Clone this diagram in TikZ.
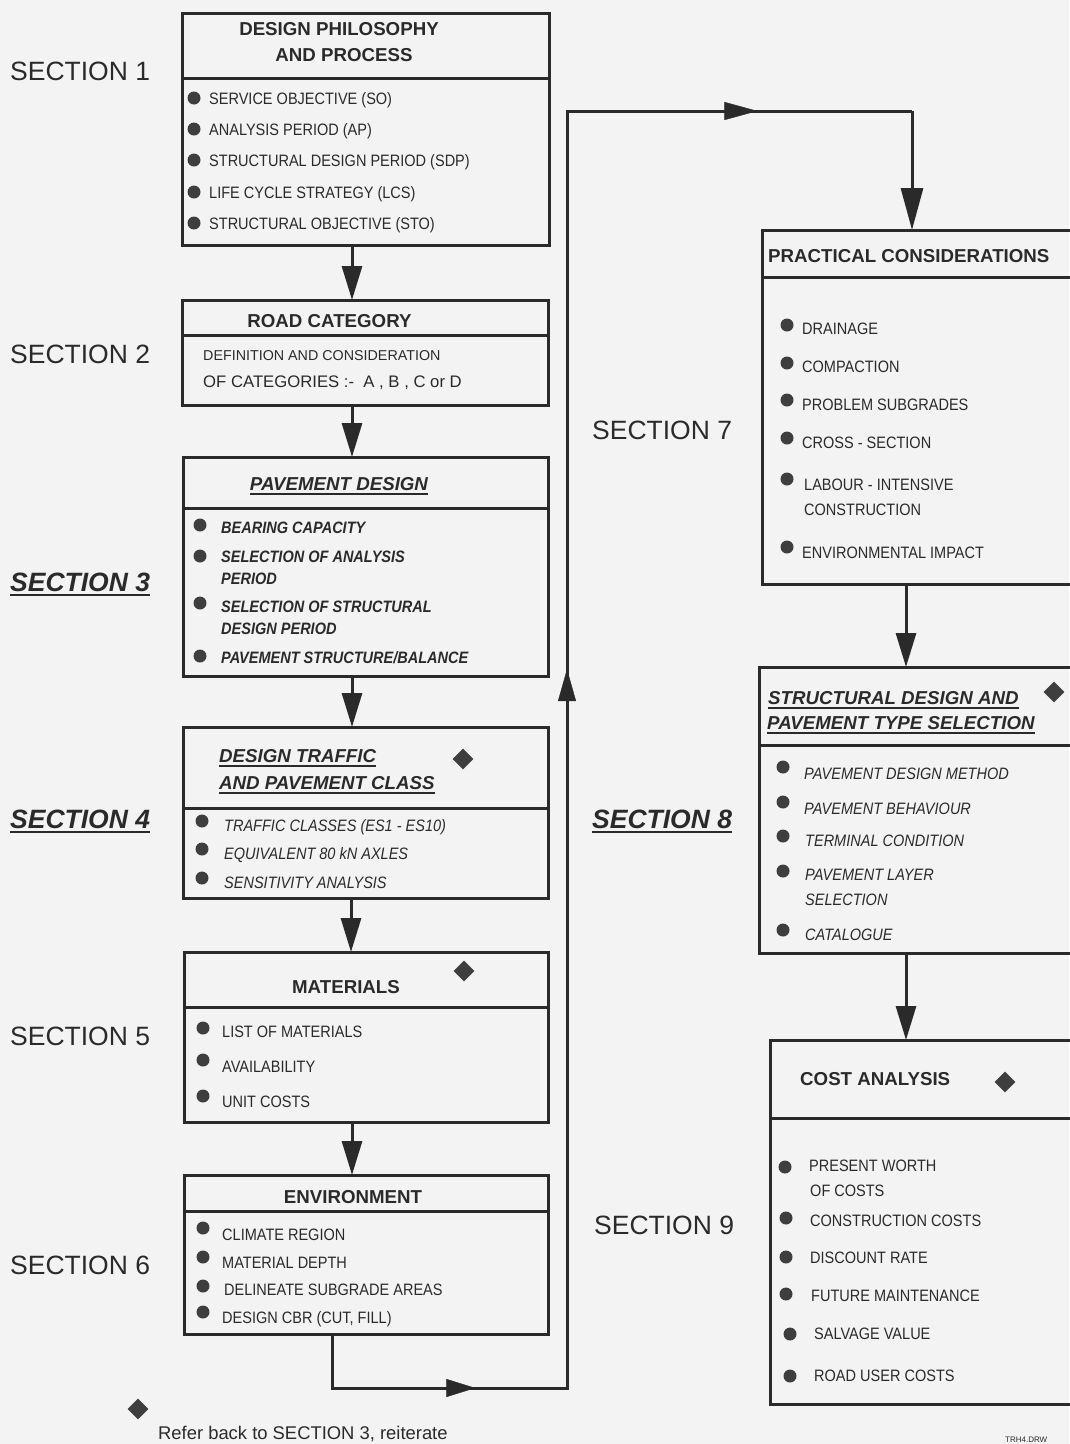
\documentclass[tikz,border=0pt]{standalone}
\usepackage{fontspec}
\setmainfont{Liberation Sans}
\newfontfamily\bodyf[FakeStretch=0.88]{Liberation Sans}
\usetikzlibrary{arrows.meta,shapes.geometric,decorations.markings}
\definecolor{ink}{HTML}{2A2A2A}
\definecolor{bg}{HTML}{F3F3F3}
\definecolor{dot}{HTML}{3E3E3E}
\newcommand\ulnode[1]{\draw[line width=1.8pt,ink] ([yshift=-4pt]#1.base west) -- ([yshift=-4pt]#1.base east);}
\begin{document}
\begin{tikzpicture}[x=1pt,y=-1pt,
  box/.style={draw=ink,line width=3pt,rectangle,inner sep=0pt,outer sep=0pt},
  rulel/.style={draw=ink,line width=3pt},
  linkl/.style={draw=ink,line width=3pt,line join=miter},
  conn/.style={draw=ink,line width=3pt,-{Triangle[length=34pt,width=20pt]}},
  dotn/.style={circle,fill=dot,draw=none,minimum size=13pt,inner sep=0pt},
  dia/.style={diamond,fill=dot,draw=none,minimum width=21pt,minimum height=21pt,inner sep=0pt},
  txt/.style={anchor=base west,inner sep=0pt,text=ink,font=\bodyf\fontsize{16.5}{19}\selectfont},
  txti/.style={txt,font=\bodyf\itshape\fontsize{16.5}{19}\selectfont},
  txtbi/.style={txt,font=\bodyf\bfseries\itshape\fontsize{16.5}{19}\selectfont},
  hb/.style={inner sep=0pt,text=ink,font=\bfseries\fontsize{18.7}{22}\selectfont},
  hbi/.style={inner sep=0pt,text=ink,font=\bfseries\itshape\fontsize{18.7}{22}\selectfont},
  sec/.style={anchor=base west,inner sep=0pt,text=ink,font=\fontsize{26.5}{30}\selectfont},
  secbi/.style={anchor=base west,inner sep=0pt,text=ink,font=\bfseries\itshape\fontsize{26.5}{30}\selectfont},
]
\useasboundingbox (0,0) rectangle (1069,1444);
\fill[bg] (0,0) rectangle (1069,1444);

% ---------- section labels ----------
\node[sec] (s1) at (10,80) {SECTION 1};
\node[sec] (s2) at (10,363) {SECTION 2};
\node[secbi] (s3) at (10,591) {SECTION 3};
\node[secbi] (s4) at (10,828) {SECTION 4};
\node[sec] (s5) at (10,1045) {SECTION 5};
\node[sec] (s6) at (10,1274) {SECTION 6};
\node[sec] (s7) at (592,439) {SECTION 7};
\node[secbi] (s8) at (592,828) {SECTION 8};
\node[sec] (s9) at (594,1234) {SECTION 9};
\ulnode{s3}\ulnode{s4}\ulnode{s8}

% ---------- boxes ----------
\node[box,minimum width=367pt,minimum height=232pt] (b1) at (365.5,129) {};
\node[box,minimum width=366pt,minimum height=105pt] (b2) at (365,352.5) {};
\node[box,minimum width=365pt,minimum height=219pt] (b3) at (365.5,566.5) {};
\node[box,minimum width=365pt,minimum height=171pt] (b4) at (365.5,812.5) {};
\node[box,minimum width=364pt,minimum height=170pt] (b5) at (366,1037) {};
\node[box,minimum width=364pt,minimum height=159pt] (b6) at (366,1254.5) {};
\node[box,minimum width=338pt,minimum height=354pt] (b7) at (931,407) {};
\node[box,minimum width=341pt,minimum height=286pt] (b8) at (929.5,810) {};
\node[box,minimum width=330pt,minimum height=364pt] (b9) at (935,1222) {};

\draw[rulel] ([yshift=-65pt]b1.north west) -- ([yshift=-65pt]b1.north east);
\draw[rulel] ([yshift=-35pt]b2.north west) -- ([yshift=-35pt]b2.north east);
\draw[rulel] ([yshift=-51pt]b3.north west) -- ([yshift=-51pt]b3.north east);
\draw[rulel] ([yshift=-81pt]b4.north west) -- ([yshift=-81pt]b4.north east);
\draw[rulel] ([yshift=-55pt]b5.north west) -- ([yshift=-55pt]b5.north east);
\draw[rulel] ([yshift=-36pt]b6.north west) -- ([yshift=-36pt]b6.north east);
\draw[rulel] ([yshift=-47pt]b7.north west) -- ([yshift=-47pt]b7.north east);
\draw[rulel] ([yshift=-78pt]b8.north west) -- ([yshift=-78pt]b8.north east);
\draw[rulel] ([yshift=-78pt]b9.north west) -- ([yshift=-78pt]b9.north east);

% ---------- box 1 ----------
\node[hb,anchor=base] (h1a) at (339,35) {DESIGN PHILOSOPHY};
\node[hb,anchor=base] (h1b) at (344,61) {AND PROCESS};
\node[dotn] (d1a) at (194,98) {};
\node[dotn] (d1b) at (194,129) {};
\node[dotn] (d1c) at (194,160) {};
\node[dotn] (d1d) at (194,192) {};
\node[dotn] (d1e) at (194,223) {};
\node[txt] (t1a) at (209,104) {SERVICE OBJECTIVE (SO)};
\node[txt] (t1b) at (209,135) {ANALYSIS PERIOD (AP)};
\node[txt] (t1c) at (209,166) {STRUCTURAL DESIGN PERIOD (SDP)};
\node[txt] (t1d) at (209,198) {LIFE CYCLE STRATEGY (LCS)};
\node[txt] (t1e) at (209,229) {STRUCTURAL OBJECTIVE (STO)};

% ---------- box 2 ----------
\node[hb,anchor=base] (h2) at (329.5,327) {ROAD CATEGORY};
\node[anchor=base west,inner sep=0pt,text=ink,font=\fontsize{14.3}{17}\selectfont] (t2a) at (203,360) {DEFINITION AND CONSIDERATION};
\node[anchor=base west,inner sep=0pt,text=ink,font=\fontsize{16.7}{19}\selectfont] (t2b) at (203,387) {OF CATEGORIES :-\ \ A , B , C or D};

% ---------- box 3 ----------
\node[hbi,anchor=base] (h3) at (339,490) {PAVEMENT DESIGN};
\ulnode{h3}
\node[dotn] (d3a) at (200,525) {};
\node[dotn] (d3b) at (200,556) {};
\node[dotn] (d3c) at (200,603) {};
\node[dotn] (d3d) at (200,656) {};
\node[txtbi] (t3a) at (221,533) {BEARING CAPACITY};
\node[txtbi] (t3b) at (221,562) {SELECTION OF ANALYSIS};
\node[txtbi] (t3c) at (221,584) {PERIOD};
\node[txtbi] (t3d) at (221,612) {SELECTION OF STRUCTURAL};
\node[txtbi] (t3e) at (221,634) {DESIGN PERIOD};
\node[txtbi] (t3f) at (221,663) {PAVEMENT STRUCTURE/BALANCE};

% ---------- box 4 ----------
\node[hbi,anchor=base west] (h4a) at (219,762) {DESIGN TRAFFIC};
\node[hbi,anchor=base west] (h4b) at (219,789) {AND PAVEMENT CLASS};
\ulnode{h4a}\ulnode{h4b}
\node[dia] (q4) at (463,759) {};
\node[dotn] (d4a) at (202,821) {};
\node[dotn] (d4b) at (202,849) {};
\node[dotn] (d4c) at (202,878) {};
\node[txti] (t4a) at (224,831) {TRAFFIC CLASSES (ES1 - ES10)};
\node[txti] (t4b) at (224,859) {EQUIVALENT 80 kN AXLES};
\node[txti] (t4c) at (224,888) {SENSITIVITY ANALYSIS};

% ---------- box 5 ----------
\node[hb,anchor=base] (h5) at (346,993) {MATERIALS};
\node[dia] (q5) at (464,971) {};
\node[dotn] (d5a) at (203,1028) {};
\node[dotn] (d5b) at (203,1060) {};
\node[dotn] (d5c) at (203,1096) {};
\node[txt] (t5a) at (222,1037) {LIST OF MATERIALS};
\node[txt] (t5b) at (222,1072) {AVAILABILITY};
\node[txt] (t5c) at (222,1107) {UNIT COSTS};

% ---------- box 6 ----------
\node[hb,anchor=base] (h6) at (353,1203) {ENVIRONMENT};
\node[dotn] (d6a) at (203,1228) {};
\node[dotn] (d6b) at (203,1257) {};
\node[dotn] (d6c) at (203,1286) {};
\node[dotn] (d6d) at (203,1312) {};
\node[txt] (t6a) at (222,1240) {CLIMATE REGION};
\node[txt] (t6b) at (222,1268) {MATERIAL DEPTH};
\node[txt] (t6c) at (224,1295) {DELINEATE SUBGRADE AREAS};
\node[txt] (t6d) at (222,1323) {DESIGN CBR (CUT, FILL)};

% ---------- box 7 ----------
\node[hb,anchor=base west] (h7) at (768,262) {PRACTICAL CONSIDERATIONS};
\node[dotn] (d7a) at (787,325) {};
\node[dotn] (d7b) at (787,363) {};
\node[dotn] (d7c) at (787,400) {};
\node[dotn] (d7d) at (787,438) {};
\node[dotn] (d7e) at (787,479) {};
\node[dotn] (d7f) at (787,547) {};
\node[txt] (t7a) at (802,334) {DRAINAGE};
\node[txt] (t7b) at (802,372) {COMPACTION};
\node[txt] (t7c) at (802,410) {PROBLEM SUBGRADES};
\node[txt] (t7d) at (802,448) {CROSS - SECTION};
\node[txt] (t7e) at (804,490) {LABOUR - INTENSIVE};
\node[txt] (t7f) at (804,515) {CONSTRUCTION};
\node[txt] (t7g) at (802,558) {ENVIRONMENTAL IMPACT};

% ---------- box 8 ----------
\node[hbi,anchor=base west] (h8a) at (768,704) {STRUCTURAL DESIGN AND};
\node[hbi,anchor=base west] (h8b) at (767,729) {PAVEMENT TYPE SELECTION};
\ulnode{h8a}\ulnode{h8b}
\node[dia] (q8) at (1054,692) {};
\node[dotn] (d8a) at (783,767) {};
\node[dotn] (d8b) at (783,802) {};
\node[dotn] (d8c) at (783,836) {};
\node[dotn] (d8d) at (783,871) {};
\node[dotn] (d8e) at (783,930) {};
\node[txti] (t8a) at (804,779) {PAVEMENT DESIGN METHOD};
\node[txti] (t8b) at (804,814) {PAVEMENT BEHAVIOUR};
\node[txti] (t8c) at (805,846) {TERMINAL CONDITION};
\node[txti] (t8d) at (805,880) {PAVEMENT LAYER};
\node[txti] (t8e) at (805,905) {SELECTION};
\node[txti] (t8f) at (805,940) {CATALOGUE};

% ---------- box 9 ----------
\node[hb,anchor=base west] (h9) at (800,1085) {COST ANALYSIS};
\node[dia] (q9) at (1005,1082) {};
\node[dotn] (d9a) at (785,1167) {};
\node[dotn] (d9b) at (786,1218) {};
\node[dotn] (d9c) at (786,1257) {};
\node[dotn] (d9d) at (786,1294) {};
\node[dotn] (d9e) at (790,1334) {};
\node[dotn] (d9f) at (790,1376) {};
\node[txt] (t9a) at (809,1171) {PRESENT WORTH};
\node[txt] (t9b) at (810,1196) {OF COSTS};
\node[txt] (t9c) at (810,1226) {CONSTRUCTION COSTS};
\node[txt] (t9d) at (810,1263) {DISCOUNT RATE};
\node[txt] (t9e) at (811,1301) {FUTURE MAINTENANCE};
\node[txt] (t9f) at (814,1339) {SALVAGE VALUE};
\node[txt] (t9g) at (814,1381) {ROAD USER COSTS};

% ---------- connectors ----------
\coordinate (xa) at (352,0);
\coordinate (xb) at (351,0);
\coordinate (xc) at (906,0);
\draw[conn] (b1.south -| xa) -- (b2.north -| xa);
\draw[conn] (b2.south -| xa) -- (b3.north -| xa);
\draw[conn] (b3.south -| xa) -- (b4.north -| xa);
\draw[conn] (b4.south -| xb) -- (b5.north -| xb);
\draw[conn] (b5.south -| xa) -- (b6.north -| xa);
\draw[conn] (b7.south -| xc) -- (b8.north -| xc);
\draw[conn] (b8.south -| xc) -- (b9.north -| xc);

\coordinate (p1) at (332,1388);
\coordinate (p2) at (567,1388);
\coordinate (p3) at (567,111);
\coordinate (p4) at (912,111);
\draw[linkl] (b6.south -| p1) -- (p1) -- (p2) -- (p3) -- (p4);
\draw[draw=ink,line width=3pt,-{Triangle[length=42pt,width=22pt]}] (p4) -- (b7.north -| p4);
\path[postaction=decorate,decoration={markings,mark=at position 0.61 with {\arrow[ink]{Triangle[length=29pt,width=18pt]}}}] (p1) -- (p2);
\path[postaction=decorate,decoration={markings,mark=at position 0.563 with {\arrow[ink]{Triangle[length=32pt,width=18pt]}}}] (p2) -- (p3);
\path[postaction=decorate,decoration={markings,mark=at position 0.552 with {\arrow[ink]{Triangle[length=33pt,width=18pt]}}}] (p3) -- (p4);

% ---------- legend ----------
\node[dia] (ql) at (138,1409) {};
\node[anchor=base west,inner sep=0pt,text=ink,font=\fontsize{18.4}{21}\selectfont] (leg) at (158,1439) {Refer back to SECTION 3, reiterate};
\node[anchor=base west,inner sep=0pt,text=ink,font=\fontsize{8}{10}\selectfont] (drw) at (1005,1442) {TRH4.DRW};
\end{tikzpicture}
\end{document}
